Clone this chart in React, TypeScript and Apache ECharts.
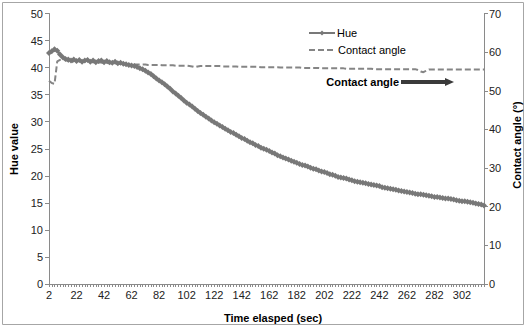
import React, { useEffect, useRef } from "react";
import * as echarts from "echarts";

// Elapsed time in seconds, one reading every 2 s
const timeSec: string[] = [];
for (let t = 2; t <= 318; t += 2) timeSec.push(String(t));

// Hue value (left axis)
const hueValues: number[] = [
  42.7, 43.0, 43.4, 43.1, 42.4, 41.9, 41.6, 41.5, 41.3, 41.5,
  41.2, 41.4, 41.1, 41.3, 41.4, 41.1, 41.3, 41.0, 41.2, 41.3,
  41.0, 41.2, 41.0, 40.9, 41.1, 40.8, 40.9, 40.7, 40.6, 40.5,
  40.4, 40.3, 40.1, 39.9, 39.7, 39.4, 39.1, 38.8, 38.4, 38.0,
  37.6, 37.3, 36.9, 36.5, 36.1, 35.6, 35.2, 34.8, 34.4, 33.9,
  33.5, 33.2, 32.8, 32.4, 32.0, 31.6, 31.3, 30.9, 30.6, 30.2,
  29.9, 29.6, 29.3, 29.0, 28.7, 28.4, 28.1, 27.9, 27.6, 27.3,
  27.0, 26.8, 26.5, 26.2, 26.0, 25.7, 25.5, 25.2, 25.0, 24.8,
  24.6, 24.3, 24.1, 23.8, 23.6, 23.4, 23.2, 23.0, 22.8, 22.6,
  22.4, 22.2, 22.0, 21.9, 21.7, 21.5, 21.3, 21.2, 21.0, 20.8,
  20.7, 20.5, 20.3, 20.2, 20.0, 19.8, 19.7, 19.6, 19.5, 19.3,
  19.2, 19.0, 18.9, 18.8, 18.7, 18.6, 18.5, 18.4, 18.3, 18.2,
  18.1, 17.9, 17.8, 17.7, 17.6, 17.5, 17.4, 17.3, 17.2, 17.1,
  17.0, 16.9, 16.8, 16.7, 16.6, 16.6, 16.5, 16.4, 16.3, 16.2,
  16.1, 16.1, 16.0, 15.9, 15.8, 15.8, 15.7, 15.6, 15.5, 15.4,
  15.3, 15.3, 15.2, 15.1, 15.0, 14.9, 14.8, 14.7, 14.5,
];

// Contact angle in degrees (right axis)
const contactAngle: number[] = [
  52.6, 52.0, 51.8, 57.6, 58.0, 58.2, 58.0, 57.6, 57.2, 57.8,
  57.8, 57.7, 57.6, 57.6, 57.5, 57.5, 57.4, 57.4, 57.3, 57.3,
  57.2, 57.2, 57.1, 57.1, 57.0, 57.0, 56.9, 56.9, 56.8, 56.8,
  56.8, 56.8, 56.8, 56.8, 56.8, 56.8, 56.7, 56.7, 56.7, 56.7,
  56.7, 56.6, 56.6, 56.6, 56.6, 56.6, 56.5, 56.5, 56.5, 56.5,
  56.5, 56.4, 56.3, 56.1, 56.3, 56.4, 56.4, 56.4, 56.4, 56.4,
  56.4, 56.4, 56.4, 56.3, 56.3, 56.3, 56.3, 56.3, 56.3, 56.2,
  56.2, 56.2, 56.2, 56.2, 56.2, 56.2, 56.2, 56.1, 56.1, 56.1,
  56.1, 56.1, 56.1, 56.1, 56.0, 56.0, 56.0, 56.0, 56.0, 56.0,
  56.0, 56.0, 55.9, 55.9, 55.9, 55.9, 55.9, 55.9, 55.9, 55.8,
  55.8, 55.8, 55.8, 55.8, 55.8, 55.8, 55.8, 55.8, 55.7, 55.7,
  55.7, 55.7, 55.7, 55.7, 55.7, 55.7, 55.7, 55.7, 55.6, 55.6,
  55.6, 55.6, 55.6, 55.6, 55.6, 55.6, 55.6, 55.6, 55.6, 55.6,
  55.6, 55.6, 55.6, 55.6, 55.4, 55.0, 54.8, 55.2, 55.5, 55.5,
  55.5, 55.5, 55.5, 55.5, 55.5, 55.5, 55.5, 55.5, 55.5, 55.5,
  55.5, 55.5, 55.5, 55.5, 55.5, 55.5, 55.5, 55.5, 55.5,
];

const hueTicks = [0, 5, 10, 15, 20, 25, 30, 35, 40, 45, 50];
const angleTicks = [0, 10, 20, 30, 40, 50, 60, 70];
const seriesNames = ["Hue", "Contact angle"];

const FONT = "Liberation Sans, Arial, sans-serif";
const AXIS_GREY = "#8a8a8a";
const HUE_GREY = "#787878";
const ANGLE_GREY = "#858585";

export default function App() {
  const ref = useRef<HTMLDivElement>(null);

  useEffect(() => {
    document.body.style.margin = "0";
    if (!ref.current) return;
    const chart = echarts.init(ref.current, null, { renderer: "svg" });

    const boldText = (text: string, x: number, y: number, align: string, rotate = 0) => ({
      type: "text",
      x,
      y,
      rotation: rotate,
      style: {
        text,
        font: `bold 11px ${FONT}`,
        fill: "#000",
        align,
        verticalAlign: "middle",
      },
    });

    chart.setOption({
      animation: false,
      backgroundColor: "#ffffff",
      grid: { left: 49, right: 42, top: 13.5, bottom: 44, containLabel: false },
      xAxis: {
        type: "category",
        data: timeSec,
        boundaryGap: false,
        axisLine: { lineStyle: { color: AXIS_GREY, width: 1 } },
        axisTick: {
          show: true,
          interval: 0,
          length: 3,
          lineStyle: { color: AXIS_GREY },
        },
        axisLabel: {
          interval: 9,
          margin: 5,
          fontFamily: FONT,
          fontSize: 11,
          color: "#222",
        },
        splitLine: { show: false },
      },
      yAxis: [
        {
          type: "value",
          min: hueTicks[0],
          max: hueTicks[hueTicks.length - 1],
          interval: 5,
          axisLine: { show: true, lineStyle: { color: AXIS_GREY } },
          axisTick: { show: true, length: 4, lineStyle: { color: AXIS_GREY } },
          axisLabel: { margin: 6, fontFamily: FONT, fontSize: 11, color: "#222" },
          splitLine: { show: false },
        },
        {
          type: "value",
          min: angleTicks[0],
          max: angleTicks[angleTicks.length - 1],
          interval: 10,
          position: "right",
          axisLine: { show: true, lineStyle: { color: AXIS_GREY } },
          axisTick: { show: true, length: 4, lineStyle: { color: AXIS_GREY } },
          axisLabel: { margin: 5, fontFamily: FONT, fontSize: 11, color: "#222" },
          splitLine: { show: false },
        },
      ],
      series: [
        {
          name: seriesNames[0],
          type: "line",
          yAxisIndex: 0,
          data: hueValues,
          symbol: "diamond",
          symbolSize: 6,
          showAllSymbol: true,
          itemStyle: { color: HUE_GREY },
          lineStyle: { color: HUE_GREY, width: 2.5 },
          z: 3,
        },
        {
          name: seriesNames[1],
          type: "line",
          yAxisIndex: 1,
          data: contactAngle,
          showSymbol: false,
          symbol: "none",
          lineStyle: { color: ANGLE_GREY, width: 2, type: [6, 3] },
          z: 2,
        },
      ],
      graphic: [
        {
          type: "rect",
          shape: { x: 2.5, y: 2.5, width: 521, height: 322 },
          style: { fill: "none", stroke: "#a6a6a6", lineWidth: 1 },
          silent: true,
        },
        // legend
        {
          type: "line",
          shape: { x1: 309, y1: 33, x2: 335, y2: 33 },
          style: { stroke: HUE_GREY, lineWidth: 2 },
        },
        {
          type: "polygon",
          shape: { points: [[322, 30.5], [324.5, 33], [322, 35.5], [319.5, 33]] },
          style: { fill: HUE_GREY },
        },
        {
          type: "text",
          x: 337,
          y: 33,
          style: {
            text: seriesNames[0],
            font: `11px ${FONT}`,
            fill: "#000",
            align: "left",
            verticalAlign: "middle",
          },
        },
        {
          type: "line",
          shape: { x1: 309, y1: 50, x2: 335, y2: 50 },
          style: { stroke: ANGLE_GREY, lineWidth: 2, lineDash: [6, 3] },
        },
        {
          type: "text",
          x: 338,
          y: 50,
          style: {
            text: seriesNames[1],
            font: `11px ${FONT}`,
            fill: "#000",
            align: "left",
            verticalAlign: "middle",
          },
        },
        // axis titles
        boldText("Hue value", 14, 149, "center", Math.PI / 2),
        boldText("Contact angle (\u00b0)", 517, 145, "center", Math.PI / 2),
        boldText("Time elasped (sec)", 273, 318, "center"),
        // annotation arrow
        boldText("Contact angle", 399, 82, "right"),
        {
          type: "rect",
          shape: { x: 401, y: 80, width: 45, height: 4 },
          style: { fill: "#3a3a3a" },
        },
        {
          type: "polygon",
          shape: { points: [[445, 78], [454, 82], [445, 86]] },
          style: { fill: "#3a3a3a" },
        },
      ],
    });

    return () => chart.dispose();
  }, []);

  return (
    <div
      ref={ref}
      style={{ position: "absolute", left: 0, top: 0, width: 526, height: 328 }}
    />
  );
}
